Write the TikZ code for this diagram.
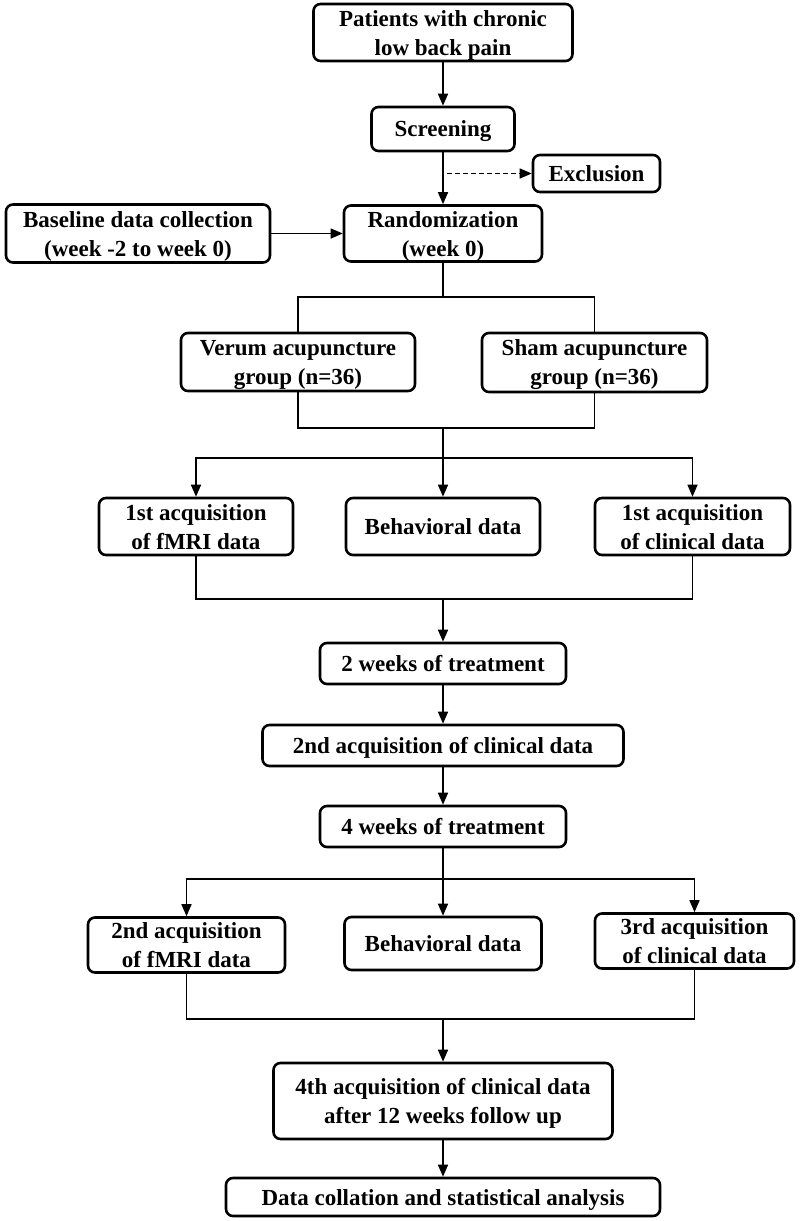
\documentclass[tikz,border=0pt]{standalone}
\usepackage{fontspec}
\setmainfont{Liberation Serif}
\usetikzlibrary{arrows.meta}
\newcommand{\tstr}{\rule{0pt}{21pt}}
\newcommand{\bstr}{\rule[-5pt]{0pt}{5pt}}
\begin{document}
\begin{tikzpicture}[x=1pt,y=-1pt,
 box/.style={draw, line width=2.6pt, rounded corners=7pt, align=center,
   font=\fontsize{23}{29}\selectfont\bfseries, inner sep=0pt},
 conn/.style={line width=1.5pt},
 arr/.style={conn, -{Triangle[length=12pt,width=10pt]}}]
\useasboundingbox (0,0) rectangle (800,1221);
% nodes
\node[box, minimum width=259pt, minimum height=57pt] (pat) at (443,32.5) {\tstr Patients with chronic\\low back pain\bstr};
\node[box, minimum width=143pt, minimum height=44pt] (scr) at (443,129) {\tstr Screening\bstr};
\node[box, minimum width=127pt, minimum height=37pt] (exc) at (596.5,173.5) {\tstr Exclusion\bstr};
\node[box, minimum width=264pt, minimum height=58pt] (base) at (138,233.5) {\tstr Baseline data collection\\(week -2 to week 0)\bstr};
\node[box, minimum width=198pt, minimum height=56pt] (rand) at (443,233.5) {\tstr Randomization\\(week 0)\bstr};
\node[box, minimum width=234pt, minimum height=58pt] (ver) at (298,362) {\tstr Verum acupuncture\\group (n=36)\bstr};
\node[box, minimum width=225pt, minimum height=59pt] (sham) at (594.5,362.5) {\tstr Sham acupuncture\\group (n=36)\bstr};
\node[box, minimum width=194pt, minimum height=57pt] (f1) at (196,526.5) {\tstr 1st acquisition\\of fMRI data\bstr};
\node[box, minimum width=194pt, minimum height=57pt] (b1) at (443,526.5) {\tstr Behavioral data\bstr};
\node[box, minimum width=195pt, minimum height=57pt] (c1) at (692.5,526.5) {\tstr 1st acquisition\\of clinical data\bstr};
\node[box, minimum width=246pt, minimum height=41pt] (w2) at (443,663.5) {\tstr 2 weeks of treatment\bstr};
\node[box, minimum width=361pt, minimum height=41pt] (c2) at (443,745.5) {\tstr 2nd acquisition of clinical data\bstr};
\node[box, minimum width=246pt, minimum height=41pt] (w4) at (443,826.5) {\tstr 4 weeks of treatment\bstr};
\node[box, minimum width=197pt, minimum height=54pt] (f2) at (186.5,945) {\tstr 2nd acquisition\\of fMRI data\bstr};
\node[box, minimum width=197pt, minimum height=53pt] (b2) at (443,943.5) {\tstr Behavioral data\bstr};
\node[box, minimum width=199pt, minimum height=54pt] (c3) at (694.5,941) {\tstr 3rd acquisition\\of clinical data\bstr};
\node[box, minimum width=339pt, minimum height=76pt] (c4) at (443,1101) {\tstr 4th acquisition of clinical data\\after 12 weeks follow up\bstr};
\node[box, minimum width=434pt, minimum height=38pt] (dat) at (443,1197) {\tstr Data collation and statistical analysis\bstr};
% junctions
\coordinate (j1) at (443,297);
\coordinate (j2) at (443,428);
\coordinate (j3) at (443,458);
\coordinate (j4) at (443,599);
\coordinate (j5) at (443,879);
\coordinate (j6) at (443,1019);
% connectors
\draw[arr] (pat) -- (scr);
\draw[arr] (scr) -- (rand);
\draw[arr, dashed, dash pattern=on 5pt off 3pt] ([xshift=4pt]scr.south |- exc.west) -- (exc.west);
\draw[arr] (base.east) -- (base.east -| rand.west);
\draw[conn] (rand.south) -- (j1);
\draw[conn] (ver.north) |- (j1) -| (sham.north);
\draw[conn] (ver.south) |- (j2) -| (sham.south);
\draw[arr] (j2) -- (b1.north);
\draw[arr] (j3) -| (f1.north);
\draw[arr] (j3) -| (c1.north);
\draw[conn] (f1.south) |- (j4) -| (c1.south);
\draw[arr] (j4) -- (w2.north);
\draw[arr] (w2) -- (c2);
\draw[arr] (c2) -- (w4);
\draw[conn] (w4.south) -- (j5);
\draw[arr] (j5) -| (f2.north);
\draw[arr] (j5) -- (b2.north);
\draw[arr] (j5) -| (c3.north);
\draw[conn] (f2.south) |- (j6) -| (c3.south);
\draw[arr] (j6) -- (c4.north);
\draw[arr] (c4) -- (dat);
\end{tikzpicture}
\end{document}
